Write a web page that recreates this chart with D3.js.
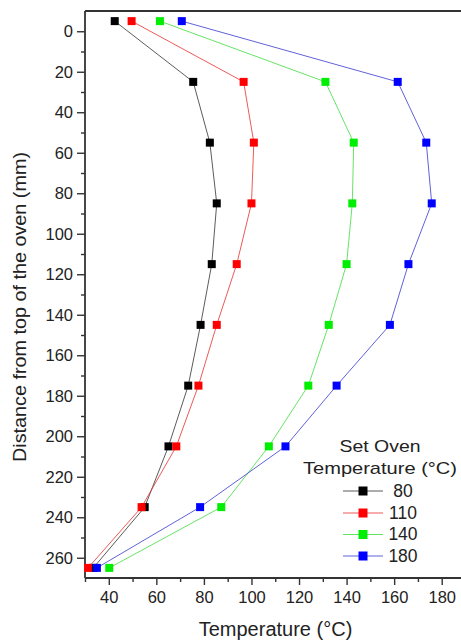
<!DOCTYPE html>
<html>
<head>
<meta charset="utf-8">
<script src="https://cdn.jsdelivr.net/npm/d3@7"></script>
<style>
  html, body { margin: 0; padding: 0; background: #fff; }
  svg { display: block; }
  text { font-family: "Liberation Sans", Arial, sans-serif; fill: #222; }
</style>
</head>
<body>
<svg id="chart" width="461" height="641"></svg>
<script>
// ---- data ----
const distances = [-5, 25, 55, 85, 115, 145, 175, 205, 235, 265];
const seriesNames = ["80", "110", "140", "180"];
const temp80  = [42.5, 75.5, 82.5, 85.4, 83.3, 78.6, 73.4, 65.1, 55.1, 33.5];
const temp110 = [49.6, 96.7, 101.0, 100.0, 93.8, 85.4, 77.7, 68.4, 53.8, 31.3];
const temp140 = [61.5, 131.1, 143.0, 142.4, 140.0, 132.5, 123.9, 107.3, 87.3, 40.2];
const temp180 = [70.7, 161.5, 173.5, 175.8, 166.0, 158.2, 135.8, 114.3, 78.4, 35.0];
const yMajorTicks = [0, 20, 40, 60, 80, 100, 120, 140, 160, 180, 200, 220, 240, 260];
const yMinorTicks = [10, 30, 50, 70, 90, 110, 130, 150, 170, 190, 210, 230, 250];
const xMajorTicks = [40, 60, 80, 100, 120, 140, 160, 180];
const xMinorTicks = [30, 50, 70, 90, 110, 130, 150, 170];
const colors = ["#000000", "#ff0000", "#00ee00", "#0000ff"];
const lineColors = ["#333333", "#e83030", "#40dd40", "#3a3ad0"];

const seriesValues = [temp80, temp110, temp140, temp180];

const svg = d3.select("#chart");
const x = d3.scaleLinear().domain([30, 190]).range([85, 465.5]);
const y = d3.scaleLinear().domain([-10, 270]).range([11, 578]);

const axisColor = "#333";

// Y axis
const gy = svg.append("g").attr("transform", `translate(${x(30)},0)`);
gy.call(d3.axisLeft(y).tickValues(yMajorTicks).tickSize(8).tickPadding(4).tickFormat(d3.format("d")));
const gyMinor = svg.append("g").attr("transform", `translate(${x(30)},0)`);
gyMinor.call(d3.axisLeft(y).tickValues(yMinorTicks).tickSize(4).tickFormat(""));

// X axis
const gx = svg.append("g").attr("transform", `translate(0,${y(270)})`);
gx.call(d3.axisBottom(x).tickValues(xMajorTicks).tickSize(7).tickPadding(6).tickFormat(d3.format("d")));
const gxMinor = svg.append("g").attr("transform", `translate(0,${y(270)})`);
gxMinor.call(d3.axisBottom(x).tickValues(xMinorTicks).tickSize(4).tickFormat(""));

[gy, gyMinor, gx, gxMinor].forEach(g => {
  g.selectAll(".domain").attr("stroke", axisColor).attr("stroke-width", 1.6);
  g.selectAll(".tick line").attr("stroke", axisColor).attr("stroke-width", 1.4);
  g.selectAll(".tick text").attr("font-size", 16.5).attr("fill", "#222")
    .attr("font-family", '"Liberation Sans", Arial, sans-serif');
});
gy.select(".domain").remove(); gyMinor.select(".domain").remove();
gx.select(".domain").remove(); gxMinor.select(".domain").remove();

// frame lines: left, bottom, top
svg.append("line").attr("x1", x(30)).attr("x2", x(30)).attr("y1", y(-10)).attr("y2", y(270))
  .attr("stroke", axisColor).attr("stroke-width", 1.8);
svg.append("line").attr("x1", x(30)).attr("x2", 461).attr("y1", y(270)).attr("y2", y(270))
  .attr("stroke", axisColor).attr("stroke-width", 1.8);
svg.append("line").attr("x1", x(30)).attr("x2", 461).attr("y1", y(-10)).attr("y2", y(-10))
  .attr("stroke", axisColor).attr("stroke-width", 1.8);

// series
const line = d3.line().x(d => x(d[0])).y(d => y(d[1]));
const ms = 8;
seriesValues.forEach((vals, i) => {
  const pts = vals.map((v, j) => [v, distances[j]]);
  svg.append("path").datum(pts).attr("d", line)
    .attr("fill", "none").attr("stroke", lineColors[i]).attr("stroke-width", 1).attr("opacity", 0.8);
  svg.append("g").selectAll("rect").data(pts).join("rect")
    .attr("x", d => x(d[0]) - ms / 2).attr("y", d => y(d[1]) - ms / 2)
    .attr("width", ms).attr("height", ms).attr("fill", colors[i]);
});

// axis titles
svg.append("text").attr("x", 275.5).attr("y", 636).attr("text-anchor", "middle")
  .attr("font-size", 20).text("Temperature (°C)");
svg.append("text").attr("transform", "translate(26,307) rotate(-90)").attr("text-anchor", "middle")
  .attr("font-size", 18).attr("textLength", 310).attr("lengthAdjust", "spacingAndGlyphs")
  .text("Distance from top of the oven (mm)");

// legend
const lg = svg.append("g");
lg.append("text").attr("x", 380).attr("y", 451.5).attr("text-anchor", "middle")
  .attr("font-size", 17).attr("textLength", 81).attr("lengthAdjust", "spacingAndGlyphs").text("Set Oven");
lg.append("text").attr("x", 380).attr("y", 473.5).attr("text-anchor", "middle")
  .attr("font-size", 17).attr("textLength", 154).attr("lengthAdjust", "spacingAndGlyphs").text("Temperature (°C)");
const rowY = [491, 513, 534.5, 556];
seriesNames.forEach((name, i) => {
  lg.append("line").attr("x1", 343).attr("x2", 383).attr("y1", rowY[i]).attr("y2", rowY[i])
    .attr("stroke", lineColors[i]).attr("stroke-width", 1).attr("opacity", 0.8);
  lg.append("rect").attr("x", 363 - 4.5).attr("y", rowY[i] - 4.5).attr("width", 9).attr("height", 9)
    .attr("fill", colors[i]);
  lg.append("text").attr("x", 403).attr("y", rowY[i] + 5.5).attr("text-anchor", "middle")
    .attr("font-size", 17.5).text(name);
});
</script>
</body>
</html>
